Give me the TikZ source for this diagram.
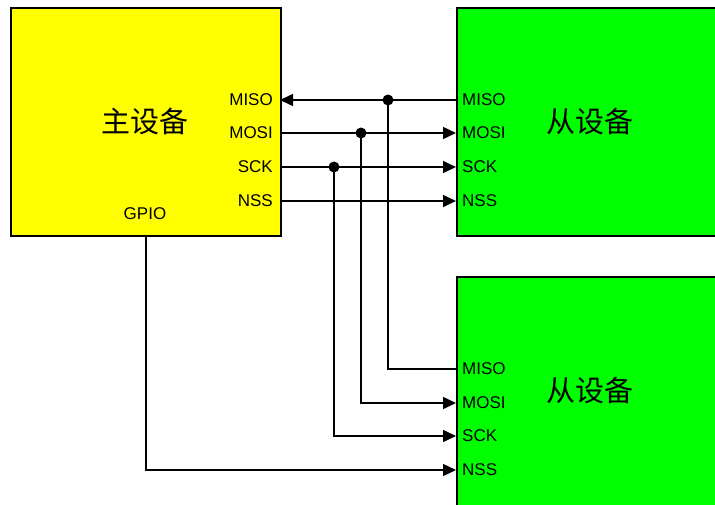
\documentclass[tikz,border=0pt]{standalone}
\usepackage{fontspec}
\setmainfont{Liberation Sans}
\newfontfamily\cjk{Noto Sans CJK SC}
\usetikzlibrary{arrows.meta}
\definecolor{myyellow}{RGB}{255,255,0}
\definecolor{mygreen}{RGB}{0,255,0}
\tikzset{
  box/.style={draw=black, line width=1.5pt, anchor=north west, inner sep=0pt},
  master/.style={box, fill=myyellow, minimum width=270pt, minimum height=228pt},
  slave/.style={box, fill=mygreen, minimum width=320pt, minimum height=228pt},
  lbl/.style={font=\fontsize{17}{19}\selectfont, inner sep=0pt},
  title/.style={font=\cjk\fontsize{29}{32}\selectfont, inner sep=0pt},
  sig/.style={line width=1.5pt, -{Triangle[length=13pt,width=12pt]}},
  wire/.style={line width=1.5pt},
  dot/.style={circle, fill=black, minimum size=11pt, inner sep=0pt}
}
\begin{document}
\begin{tikzpicture}[x=1pt,y=-1pt]
\useasboundingbox (0,0) rectangle (715,504);
\clip (0,0) rectangle (715,504);
\node[master] (m) at (10,7) {};
\node[slave] (s1) at (456,7) {};
\node[slave, minimum height=240pt] (s2) at (456,276) {};
\node[title] (tm) at (145,121) {主设备};
\node[title] (t1) at (590,121) {从设备};
\node[title] (t2) at (590,390) {从设备};
% master labels
\node[lbl, anchor=east] (lmMISO) at (273,100) {MISO};
\node[lbl, anchor=east] (lmMOSI) at (273,133) {MOSI};
\node[lbl, anchor=east] (lmSCK) at (273,167) {SCK};
\node[lbl, anchor=east] (lmNSS) at (273,201) {NSS};
\node[lbl] (lmGPIO) at (145,214) {GPIO};
% slave 1 labels
\node[lbl, anchor=west] (l1MISO) at (462,100) {MISO};
\node[lbl, anchor=west] (l1MOSI) at (462,133) {MOSI};
\node[lbl, anchor=west] (l1SCK) at (462,167) {SCK};
\node[lbl, anchor=west] (l1NSS) at (462,201) {NSS};
% slave 2 labels
\node[lbl, anchor=west] (l2MISO) at (462,369) {MISO};
\node[lbl, anchor=west] (l2MOSI) at (462,403) {MOSI};
\node[lbl, anchor=west] (l2SCK) at (462,436) {SCK};
\node[lbl, anchor=west] (l2NSS) at (462,470) {NSS};
% ports
\coordinate (mMISO) at (280,100);
\coordinate (mMOSI) at (280,133);
\coordinate (mSCK) at (280,167);
\coordinate (mNSS) at (280,201);
\coordinate (mGPIO) at (146,235);
\coordinate (p1MISO) at (456,100);
\coordinate (p1MOSI) at (456,133);
\coordinate (p1SCK) at (456,167);
\coordinate (p1NSS) at (456,201);
\coordinate (p2MISO) at (456,369);
\coordinate (p2MOSI) at (456,403);
\coordinate (p2SCK) at (456,436);
\coordinate (p2NSS) at (456,470);
% junctions
\node[dot] (jMISO) at (388,100) {};
\node[dot] (jMOSI) at (361,133) {};
\node[dot] (jSCK) at (334,167) {};
% connectors
\draw[sig] (p1MISO) -- (mMISO);
\draw[sig] (mMOSI) -- (p1MOSI);
\draw[sig] (mSCK) -- (p1SCK);
\draw[sig] (mNSS) -- (p1NSS);
\draw[wire] (p2MISO) -| (jMISO.center);
\draw[sig] (jMOSI.center) |- (p2MOSI);
\draw[sig] (jSCK.center) |- (p2SCK);
\draw[sig] (mGPIO) |- (p2NSS);
\end{tikzpicture}
\end{document}
